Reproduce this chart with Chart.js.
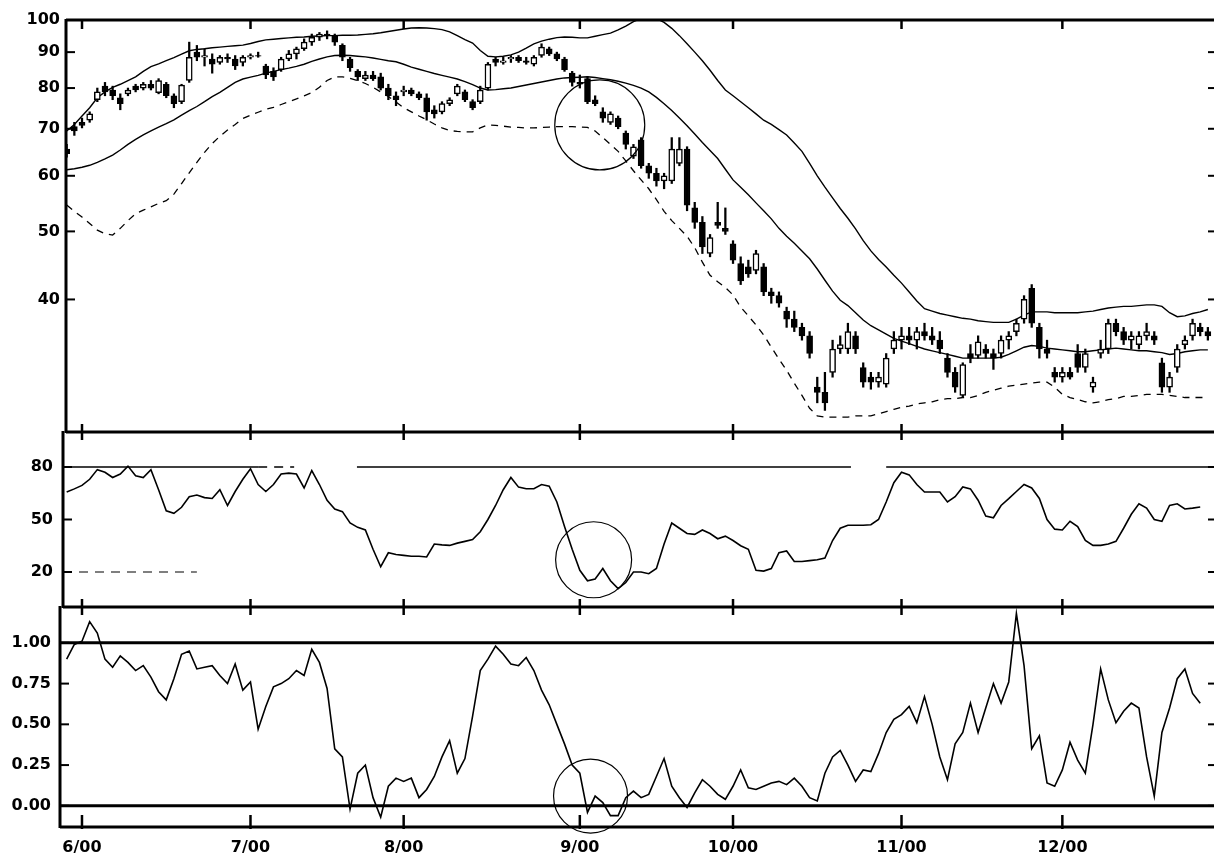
<!DOCTYPE html>
<html lang="en">

<head>
    <meta charset="UTF-8" />
    <title>Bollinger Bands, 21-day RSI style oscillator and %b</title>
    <script src="https://cdn.jsdelivr.net/npm/chart.js"></script>
    <style>
        body { margin: 0; background: #fff; }
        #wrap { position: relative; width: 1215px; height: 863px; }
        #wrap canvas { position: absolute; left: 0; top: 0; }
    </style>
</head>

<body>
    <div id="wrap">
        <canvas id="price" width="1215" height="863"></canvas>
        <canvas id="rsi" width="1215" height="863"></canvas>
        <canvas id="pctb" width="1215" height="863"></canvas>
    </div>

    <script>
        // trading days from 5/30/00 (day 0) to 12/29/00 (day 149)
        const monthStarts = [2, 24, 44, 67, 87, 109, 130];
        const monthLabels = ['6/00', '7/00', '8/00', '9/00', '10/00', '11/00', '12/00'];
        const priceTicks = [40, 50, 60, 70, 80, 90, 100];
        const rsiTicks = [20, 50, 80];
        const pctbTicks = [0, 0.25, 0.5, 0.75, 1];

        const opens = [65.5, 70.5, 71.5, 72, 77, 80.5, 79.5, 77.5, 78.5, 80.5,
            80, 81, 78.8, 81, 78, 76.5, 82, 90, 88.5, 88,
            87, 88.5, 88, 87, 88.5, 89, 86, 84.5, 85, 88,
            89.5, 91, 93, 94.5, 95.5, 95, 92, 88, 84.5, 82.5,
            83.5, 83, 80, 78, 79, 79.5, 78.5, 77.5, 74.5, 74,
            76, 78.5, 79, 76.5, 76.5, 80, 88, 87, 88, 88.5,
            87.5, 86.5, 89, 91, 89.5, 88, 84, 81.5, 82.5, 77,
            74, 71.5, 72.5, 69, 64, 67.5, 62, 60.5, 59, 59,
            62.5, 65.5, 54, 51.5, 46.5, 51.5, 50.5, 48, 45, 44.5,
            44, 44.5, 41, 40.5, 38.5, 37.5, 36.5, 35.5, 30, 29.5,
            31.5, 34, 34, 35.5, 32, 31, 30.5, 30.3, 34, 35,
            35.5, 35, 36, 35.5, 35, 33, 31.5, 29.2, 33.5, 33.3,
            34, 33.5, 33.5, 35, 36, 37.5, 41.5, 36.5, 34, 31.5,
            31, 31.5, 33.5, 32, 30, 33.5, 34, 37, 36, 35,
            34.5, 35.5, 35.5, 32.5, 30, 32, 34.5, 35.5, 36.5, 36];
        const highs = [66.5, 71.5, 72.5, 74, 80, 81.5, 80.5, 78.5, 80, 81,
            81.5, 82, 82.5, 81.5, 78.5, 81, 93, 92, 91, 89.5,
            89, 89.5, 89, 89, 89.5, 90, 86.5, 85.5, 88.5, 90.5,
            91.5, 94, 95.5, 96, 96.5, 95.5, 92.5, 88.5, 85, 84.5,
            84.5, 84, 81, 79, 80.5, 80, 79, 78.5, 75.5, 76.5,
            77.5, 81, 79.5, 77, 80.5, 87, 88.5, 88.5, 89, 89,
            88.5, 89, 92.5, 91.5, 90, 88.5, 84.5, 83.5, 83, 78,
            75, 74, 73, 69.5, 66.5, 68, 62.5, 61.5, 60.5, 68,
            68, 66, 55, 52.5, 49.5, 55, 54, 48.5, 46, 45.5,
            47, 45, 41.5, 41, 39, 38.5, 37, 36, 31, 31.5,
            35, 35.5, 37, 36, 32.5, 31.5, 31.5, 33.5, 36, 36.5,
            36.5, 36.5, 37, 36.5, 36, 33.5, 32, 32.5, 34.5, 35.5,
            34.5, 34, 35.5, 36, 37.5, 40.5, 42, 37, 35, 32,
            32, 32, 34.5, 34, 31, 35, 37.5, 37.5, 36.5, 36,
            36, 37, 36, 33, 31.5, 34.5, 35.5, 37.5, 37, 36.5];
        const lows = [63.8, 68.5, 70.2, 71.5, 76.5, 78, 77, 74.5, 78, 79,
            79.5, 79.5, 78.5, 77.5, 75, 76, 81.5, 87.5, 86, 84,
            86.5, 87, 85, 86, 88, 88.5, 82.5, 82, 84.5, 87.5,
            88, 90.5, 92, 93.5, 94, 92, 87.5, 84.5, 82, 82,
            82, 79.5, 77, 75.5, 78, 78, 77, 72, 72.5, 73.5,
            75.5, 78, 76.5, 74.5, 76, 79.5, 86, 86.5, 87, 87,
            86.5, 86, 88.5, 89, 87.5, 84.5, 80.5, 80, 76, 75.5,
            71.5, 71, 70, 65.5, 63.5, 61.5, 59.5, 58, 57.5, 58.5,
            62, 53.5, 50.5, 46.5, 46, 50.5, 49.5, 45, 42, 43,
            43.5, 40.5, 39.5, 39, 36.5, 36, 35, 33, 28.5, 27.8,
            31, 33.5, 33.5, 33.5, 30, 29.8, 30, 30, 33.5, 34,
            34.5, 34, 35, 34.5, 33.5, 31, 29.5, 29, 32.5, 33,
            33, 31.8, 33, 34, 35.5, 37, 36.5, 33, 33, 30.5,
            30.5, 30.8, 31.5, 31.5, 29.5, 33, 33.5, 35.5, 34.5, 34,
            34, 35, 34.5, 29.5, 29.5, 31.5, 34, 35, 35.5, 35];
        const closes = [64.5, 69.5, 70.8, 73.5, 79, 79, 78, 76, 79.5, 79.5,
            81, 80, 82, 78, 76, 80.8, 88.5, 88.5, 89, 86.5,
            88.5, 88, 86, 88.5, 89, 88.8, 83.5, 83, 88, 89.5,
            91, 93, 94.5, 95.5, 95, 93, 88.5, 85.5, 83, 83.5,
            82.5, 80, 78, 77, 79.5, 78.5, 77.5, 74, 73.5, 76,
            77, 80.5, 77, 75, 79.5, 86.5, 87, 87.5, 88.5, 87.5,
            87, 88.5, 91.5, 89.5, 88, 85, 81.5, 81, 76.5, 76,
            72.5, 73.5, 70.5, 66.5, 66, 62, 60.5, 59, 60, 65.5,
            65.5, 54.5, 51.5, 47.5, 49, 51, 50, 45.5, 42.5, 43.5,
            46.5, 41, 40.5, 39.5, 37.5, 36.5, 35.5, 33.5, 29.5, 28.5,
            34, 34.5, 36, 34, 30.5, 30.5, 31, 33, 35, 35.5,
            35, 36, 35.5, 35, 34, 31.5, 30, 32.3, 33, 34.8,
            33.5, 33, 35, 35.5, 37, 40, 37, 34, 33.5, 31,
            31.5, 31, 32, 33.5, 30.5, 34, 37, 36, 35, 35.5,
            35.5, 36, 35, 30, 31, 34, 35, 37, 36, 35.5];

        const upperBand = [69.5, 71, 73, 75, 77.5, 79, 80.2, 81, 82, 83,
            84.5, 85.8, 86.6, 87.5, 88.4, 89.4, 90.4, 90.8, 91, 91.3,
            91.5, 91.7, 91.9, 92.1, 92.6, 93.2, 93.7, 93.9, 94.1, 94.3,
            94.5, 94.6, 94.8, 94.9, 95, 95, 95.1, 95.1, 95.2, 95.4,
            95.6, 95.9, 96.3, 96.7, 97.1, 97.4, 97.5, 97.4, 97.2, 96.9,
            96.2, 95, 93.8, 92.7, 90.5, 88.8, 88.6, 88.8, 89.2, 90,
            91.2, 92.5, 93.3, 93.9, 94.4, 94.6, 94.5, 94.3, 94.3, 94.8,
            95.3, 95.8, 96.8, 98, 99.5, 100.5, 100.8, 100.5, 99.2, 97.3,
            95, 92.5, 90, 87.5, 84.8, 82, 79.5, 78, 76.5, 75,
            73.5, 72, 71, 69.8, 68.6, 66.8, 65, 62.5, 60, 57.8,
            55.8, 53.9, 52.2, 50.4, 48.5, 46.9, 45.6, 44.5, 43.3, 42.2,
            41, 39.8, 38.8, 38.5, 38.2, 38, 37.8, 37.6, 37.5, 37.3,
            37.2, 37.1, 37.1, 37.1, 37.5, 38, 38.4, 38.4, 38.4, 38.3,
            38.3, 38.3, 38.3, 38.4, 38.5, 38.7, 38.9, 39, 39.1, 39.1,
            39.2, 39.3, 39.3, 39.1, 38.3, 37.8, 37.9, 38.2, 38.4, 38.7];
        const middleBand = [61.2, 61.4, 61.7, 62.1, 62.7, 63.4, 64.2, 65.3, 66.5, 67.6,
            68.6, 69.5, 70.4, 71.2, 72.1, 73.2, 74.3, 75.3, 76.5, 77.8,
            78.9, 80.2, 81.5, 82.4, 82.9, 83.4, 84, 84.5, 85, 85.4,
            85.9, 86.5, 87.3, 88, 88.6, 89, 89.1, 89, 88.8, 88.6,
            88.3, 87.9, 87.5, 87.2, 86.5, 85.7, 85.1, 84.5, 83.9, 83.4,
            82.9, 82.4, 81.7, 80.9, 80, 79.5, 79.6, 79.8, 80, 80.4,
            80.8, 81.2, 81.6, 82, 82.4, 82.7, 82.8, 82.9, 83, 82.8,
            82.5, 82.2, 81.8, 81.3, 80.7, 80, 79, 77.6, 76, 74.3,
            72.5, 70.7, 68.8, 66.9, 65.2, 63.5, 61.3, 59.2, 57.8, 56.4,
            54.9, 53.5, 52.1, 50.5, 49.2, 48.1, 46.9, 45.7, 44.2, 42.6,
            41.1, 39.9, 39.2, 38.3, 37.4, 36.7, 36.2, 35.7, 35.2, 34.9,
            34.6, 34.3, 34, 33.8, 33.6, 33.4, 33.2, 33, 33, 33,
            33, 33, 33.1, 33.4, 33.8, 34.2, 34.4, 34.3, 34.1, 34,
            33.9, 33.8, 33.7, 33.7, 33.8, 33.9, 34, 34.1, 34, 33.9,
            33.8, 33.8, 33.7, 33.6, 33.4, 33.5, 33.7, 33.8, 33.9, 33.9];
        const lowerBand = [54.5, 53.4, 52.4, 51.3, 50.2, 49.6, 49.4, 50.5, 51.8, 53,
            53.6, 54.2, 54.8, 55.3, 56.5, 58.5, 60.6, 62.7, 64.8, 66.7,
            68.3, 69.7, 71, 72.4, 73.2, 73.9, 74.6, 75.1, 75.8, 76.5,
            77.2, 78, 78.8, 80.2, 82, 83, 83, 82.6, 82, 81.2,
            80.2, 79, 77.8, 76.4, 75, 74, 73, 72.1, 71.1, 70.2,
            69.6, 69.4, 69.3, 69.3, 70.2, 70.9, 70.8, 70.6, 70.4, 70.3,
            70.2, 70.2, 70.3, 70.4, 70.5, 70.5, 70.5, 70.4, 70.3, 69.5,
            68, 66.5, 65, 63, 61, 59.2, 57.5, 55.5, 53.4, 51.8,
            50.5, 49.2, 47.4, 45.2, 43.3, 42.4, 41.6, 40.6, 39, 37.9,
            36.8, 35.6, 34.2, 32.9, 31.7, 30.4, 29.2, 28, 27.3, 27.2,
            27.2, 27.2, 27.2, 27.3, 27.3, 27.3, 27.5, 27.7, 27.9, 28.1,
            28.2, 28.4, 28.5, 28.6, 28.8, 28.9, 28.9, 29, 29, 29.2,
            29.5, 29.7, 29.9, 30.1, 30.2, 30.3, 30.4, 30.5, 30.5, 30,
            29.3, 29, 28.8, 28.6, 28.5, 28.6, 28.8, 28.9, 29.1, 29.1,
            29.2, 29.3, 29.3, 29.3, 29.2, 29.1, 29, 29, 29, 29];

        // momentum oscillator, 0-100
        const rsi = [65.7, 67.5, 69.5, 73, 78.5, 77, 74, 76, 80.5, 75,
            74, 78.5, 67, 55, 53.5, 57, 63, 64, 62.5, 62,
            67, 58, 66, 73, 79, 70, 66, 70, 76, 76.5,
            76, 68, 78, 70, 61, 56, 54.5, 48, 45.5, 44,
            33, 23, 31, 30, 29.5, 29, 29, 28.6, 36, 35.5,
            35.2, 36.5, 37.5, 38.5, 43, 50, 58, 67, 74, 68.5,
            67.6, 67.6, 70, 69, 60, 46, 33, 21, 15, 16,
            22, 15, 10.5, 14, 20, 20, 19, 22, 36, 48,
            45, 42, 41.5, 44, 42, 39, 40.5, 38, 35, 33,
            21, 20.5, 22, 31, 32, 26, 26, 26.5, 27, 28,
            38, 45, 46.7, 46.7, 46.7, 47, 50, 60, 71, 77,
            75.5, 70, 65.7, 65.7, 65.7, 60, 63, 68.6, 67.5, 61,
            52, 51, 58, 61.9, 66, 70, 68, 62, 50, 44.5,
            44, 49, 46, 38, 35.2, 35.2, 36, 37.5, 45, 53,
            59, 56.5, 50, 49, 58, 59, 56, 56.5, 57.1, null];

        // %b: where the close sits inside the bands
        const pctB = [0.90, 0.99, 1.01, 1.13, 1.06, 0.90, 0.85, 0.92, 0.88, 0.83,
            0.86, 0.79, 0.70, 0.65, 0.78, 0.93, 0.95, 0.84, 0.85, 0.86,
            0.80, 0.75, 0.87, 0.71, 0.76, 0.47, 0.61, 0.73, 0.75, 0.78,
            0.83, 0.80, 0.96, 0.88, 0.72, 0.35, 0.30, -0.02, 0.20, 0.25,
            0.05, -0.07, 0.12, 0.17, 0.15, 0.17, 0.05, 0.10, 0.18, 0.30,
            0.40, 0.20, 0.29, 0.55, 0.83, 0.90, 0.98, 0.93, 0.87, 0.86,
            0.91, 0.83, 0.71, 0.62, 0.50, 0.38, 0.25, 0.20, -0.04, 0.06,
            0.02, -0.06, -0.06, 0.05, 0.09, 0.05, 0.07, 0.18, 0.29, 0.12,
            0.05, -0.01, 0.08, 0.16, 0.12, 0.07, 0.04, 0.12, 0.22, 0.11,
            0.10, 0.12, 0.14, 0.15, 0.13, 0.17, 0.12, 0.05, 0.03, 0.20,
            0.30, 0.34, 0.25, 0.15, 0.22, 0.21, 0.32, 0.45, 0.53, 0.56,
            0.61, 0.51, 0.67, 0.50, 0.30, 0.16, 0.38, 0.45, 0.63, 0.45,
            0.60, 0.75, 0.63, 0.76, 1.18, 0.86, 0.35, 0.43, 0.14, 0.12,
            0.22, 0.39, 0.28, 0.20, 0.50, 0.84, 0.65, 0.51, 0.58, 0.63,
            0.60, 0.30, 0.06, 0.45, 0.60, 0.78, 0.84, 0.69, 0.63, null];

        // reference lines: [level, from day, to day, width, dashed]
        const rsiRules = [[80, -1, 25, 1.5, 0], [80, 25, 29.7, 1.5, 1], [80, 37.9, 102.4, 1.5, 0],
            [80, 107, 151, 1.5, 0], [20, -1, 17, 1.2, 1]];
        const pctbRules = [[1, -1, 151, 3, 0], [0, -1, 151, 3, 0]];

        const days = closes.map((c, i) => i);
        const pts = arr => arr.map((v, i) => ({ x: i, y: v }));
        const labelFont = { family: 'DejaVu Sans', size: 16, weight: 'bold' };

        // axes, panel rules, month ticks and the circled area
        const frame = {
            id: 'frame',
            afterDraw(chart, args, o) {
                const { ctx, chartArea: a, scales: { x, y } } = chart;
                const seg = (x1, y1, x2, y2) => { ctx.beginPath(); ctx.moveTo(x1, y1); ctx.lineTo(x2, y2); ctx.stroke(); };
                ctx.save();
                ctx.strokeStyle = '#000';
                (o.rules || []).forEach(([v, from, to, w, dash]) => {
                    ctx.lineWidth = w;
                    ctx.setLineDash(dash ? [9, 7] : []);
                    const py = y.getPixelForValue(v);
                    seg(x.getPixelForValue(Math.max(from, x.min)), py, x.getPixelForValue(Math.min(to, x.max)), py);
                });
                ctx.setLineDash([]);
                ctx.lineWidth = 3;
                seg(a.left, a.top - 1, a.left, a.bottom + 1);
                if (o.top) seg(a.left, a.top, a.right, a.top);
                seg(a.left, a.bottom, a.right, a.bottom);
                ctx.lineWidth = 2.5;
                monthStarts.forEach(m => {
                    const px = x.getPixelForValue(m);
                    if (o.top) seg(px, a.top, px, a.top + 9);
                    seg(px, a.bottom - o.tickUp, px, a.bottom + o.tickDown);
                });
                ctx.lineWidth = 2;
                y.ticks.forEach(t => {
                    const py = y.getPixelForValue(t.value);
                    seg(a.left, py, a.left + 9, py);
                    seg(a.right - 6, py, a.right, py);
                });
                if (o.circle) {
                    ctx.lineWidth = 1.2;
                    ctx.beginPath();
                    ctx.arc(x.getPixelForValue(o.circle.day), y.getPixelForValue(o.circle.value), o.circle.r, 0, Math.PI * 2);
                    ctx.stroke();
                }
                ctx.restore();
            }
        };

        function panel(id, datasets, p) {
            return new Chart(document.getElementById(id), {
                type: 'bar',
                data: { datasets },
                options: {
                    responsive: false,
                    animation: false,
                    layout: { padding: { top: p.top, bottom: p.bottom, left: 0, right: 1 } },
                    plugins: { legend: { display: false }, tooltip: { enabled: false }, frame: p.frame },
                    scales: {
                        x: {
                            type: 'linear', min: p.xMin, max: 149.8, offset: false,
                            grid: { display: false, drawTicks: false }, border: { display: false },
                            afterBuildTicks: s => { s.ticks = monthStarts.map(v => ({ value: v })); },
                            afterFit: s => { s.height = p.xLabels ? 36 : 0; },
                            ticks: {
                                display: !!p.xLabels, autoSkip: false, maxRotation: 0, padding: 11,
                                color: '#000', font: labelFont,
                                callback: (v, i) => monthLabels[i]
                            }
                        },
                        y: {
                            type: p.yType, min: p.yMin, max: p.yMax,
                            grid: { display: false, drawTicks: false }, border: { display: false },
                            afterFit: s => { s.width = p.left; },
                            afterBuildTicks: s => { s.ticks = p.yTicks.map(v => ({ value: v })); },
                            ticks: { autoSkip: false, padding: p.pad, color: '#000', font: labelFont, callback: p.fmt }
                        }
                    }
                },
                plugins: [frame]
            });
        }

        panel('price', [
            {
                label: 'body', data: days.map(i => ({ x: i, y: [opens[i], closes[i]] })),
                backgroundColor: days.map(i => closes[i] > opens[i] ? '#fff' : '#000'),
                borderColor: '#000', borderWidth: 1.5, borderSkipped: false, barThickness: 6, grouped: false
            },
            {
                label: 'range', data: days.map(i => ({ x: i, y: [lows[i], highs[i]] })),
                backgroundColor: '#000', barThickness: 1.6, grouped: false
            },
            { type: 'line', label: 'upper', data: pts(upperBand), borderColor: '#000', borderWidth: 1.4, pointRadius: 0 },
            { type: 'line', label: 'average', data: pts(middleBand), borderColor: '#000', borderWidth: 1.4, pointRadius: 0 },
            { type: 'line', label: 'lower', data: pts(lowerBand), borderColor: '#000', borderWidth: 1.3, borderDash: [7, 6], pointRadius: 0 }
        ], {
            top: 20, bottom: 431, left: 66, pad: 6, xMin: -0.09,
            yType: 'logarithmic', yMin: 25.9, yMax: 100, yTicks: priceTicks, fmt: v => String(v),
            frame: { top: true, tickUp: 8, tickDown: 8, circle: { day: 69.6, value: 70.9, r: 45 } }
        });

        panel('rsi', [
            { type: 'line', label: 'oscillator', data: pts(rsi), borderColor: '#000', borderWidth: 1.6, pointRadius: 0 }
        ], {
            top: 432, bottom: 256, left: 63, pad: 10, xMin: -0.48,
            yType: 'linear', yMin: 0, yMax: 100, yTicks: rsiTicks, fmt: v => String(v),
            frame: { rules: rsiRules, tickUp: 8, tickDown: 8, circle: { day: 68.8, value: 27, r: 38 } }
        });

        panel('pctb', [
            { type: 'line', label: '%b', data: pts(pctB), borderColor: '#000', borderWidth: 1.6, pointRadius: 0 }
        ], {
            top: 607, bottom: 0, left: 60, pad: 9, xMin: -0.87, xLabels: true,
            yType: 'linear', yMin: -0.13, yMax: 1.22, yTicks: pctbTicks, fmt: v => v.toFixed(2),
            frame: { rules: pctbRules, tickUp: 12, tickDown: 2, circle: { day: 68.4, value: 0.06, r: 37 } }
        });
    </script>
</body>

</html>
